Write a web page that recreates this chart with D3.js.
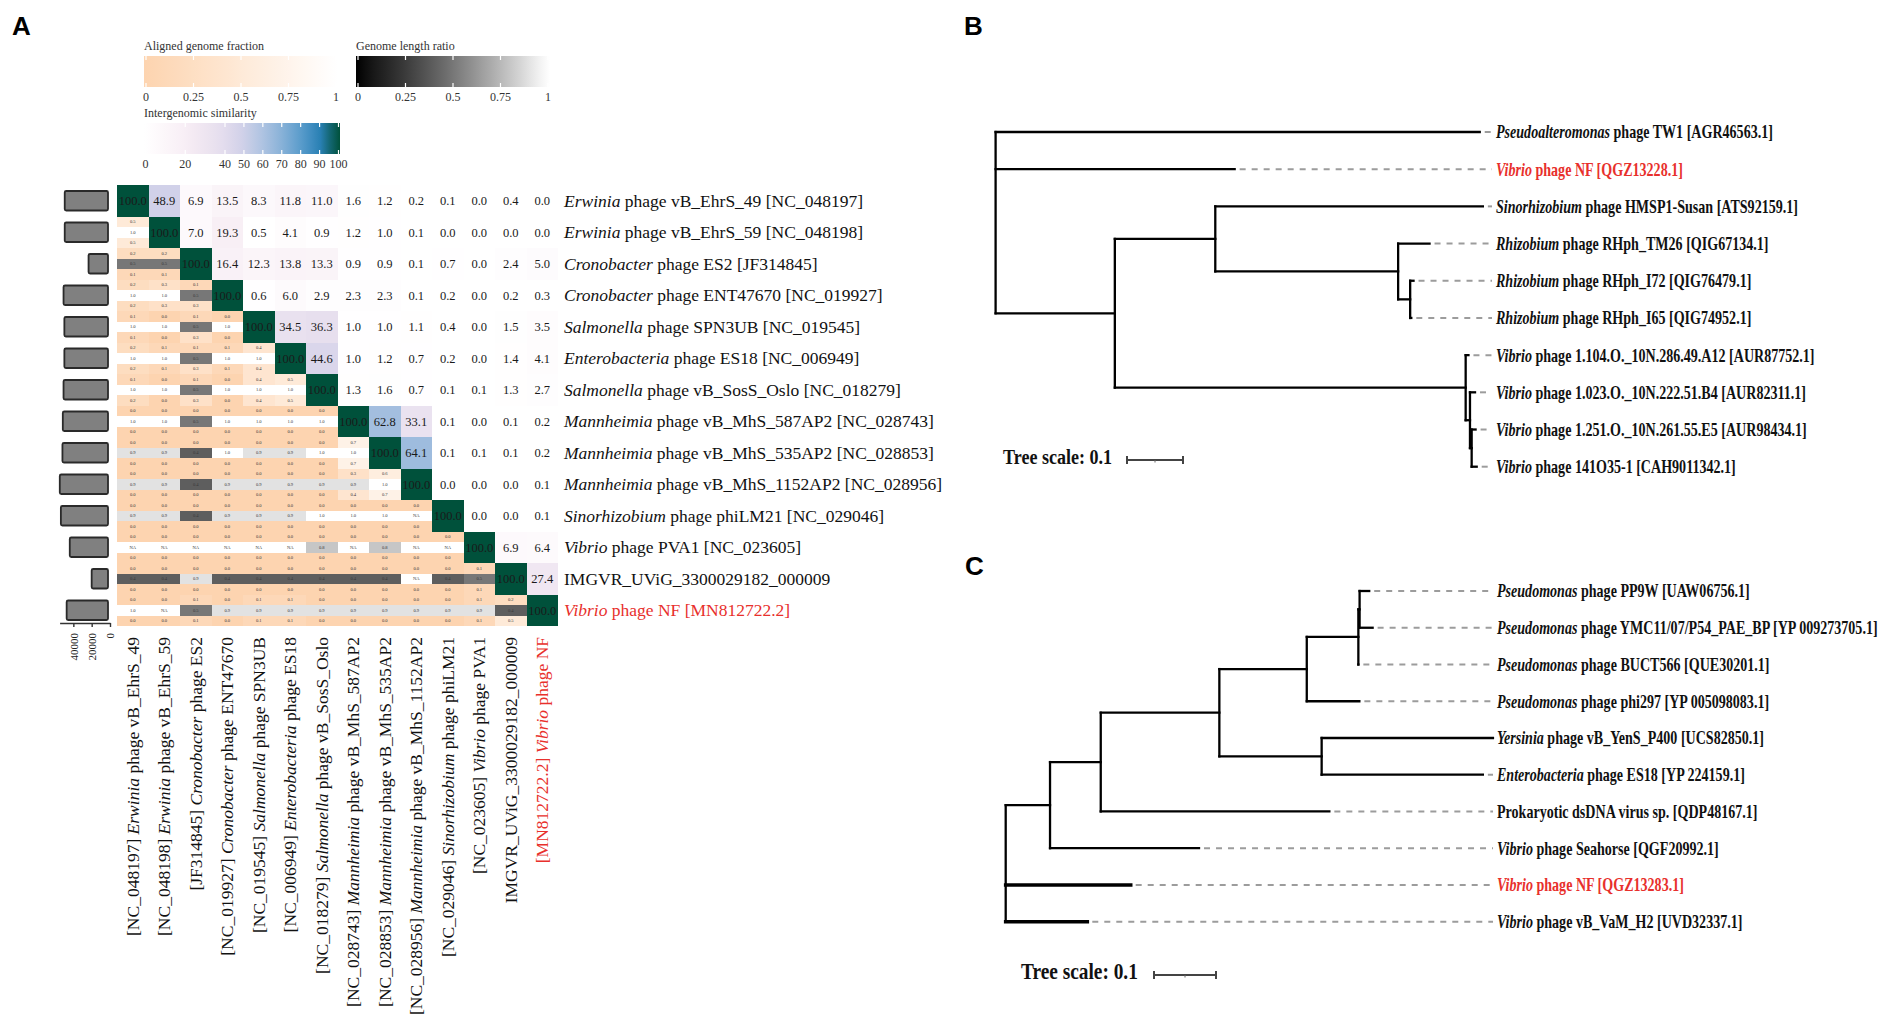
<!DOCTYPE html>
<html>
<head>
<meta charset="utf-8">
<script src="https://cdn.jsdelivr.net/npm/d3@7"></script>
<style>
  body { margin: 0; background: #fff; }
  text { font-family: "Liberation Serif", "Times New Roman", serif; }
  .letter { font-family: "Liberation Sans", Arial, sans-serif; font-weight: bold; font-size: 26px; }
</style>
</head>
<body>
<script>
// ---------------- panel A data ----------------
const genus = ["Erwinia", "Erwinia", "Cronobacter", "Cronobacter", "Salmonella", "Enterobacteria", "Salmonella",
  "Mannheimia", "Mannheimia", "Mannheimia", "Sinorhizobium", "Vibrio", "", "Vibrio"]
const phageName = ["vB_EhrS_49", "vB_EhrS_59", "ES2", "ENT47670", "SPN3UB", "ES18", "vB_SosS_Oslo",
  "vB_MhS_587AP2", "vB_MhS_535AP2", "vB_MhS_1152AP2", "phiLM21", "PVA1", "IMGVR_UViG_3300029182_000009", "NF"]
const accession = ["NC_048197", "NC_048198", "JF314845", "NC_019927", "NC_019545", "NC_006949", "NC_018279",
  "NC_028743", "NC_028853", "NC_028956", "NC_029046", "NC_023605", "", "MN812722.2"]
const genomeLength = [49400, 49400, 23400, 50700, 49800, 49800, 50700, 51500, 51900, 54800, 53600, 43900, 20000, 47300]
const highlightRow = 13

// intergenomic similarity, upper triangle (row i, columns i+1 .. n-1)
const similarity = [
  [48.9, 6.9, 13.5, 8.3, 11.8, 11.0, 1.6, 1.2, 0.2, 0.1, 0.0, 0.4, 0.0],
  [7.0, 19.3, 0.5, 4.1, 0.9, 1.2, 1.0, 0.1, 0.0, 0.0, 0.0, 0.0],
  [16.4, 12.3, 13.8, 13.3, 0.9, 0.9, 0.1, 0.7, 0.0, 2.4, 5.0],
  [0.6, 6.0, 2.9, 2.3, 2.3, 0.1, 0.2, 0.0, 0.2, 0.3],
  [34.5, 36.3, 1.0, 1.0, 1.1, 0.4, 0.0, 1.5, 3.5],
  [44.6, 1.0, 1.2, 0.7, 0.2, 0.0, 1.4, 4.1],
  [1.3, 1.6, 0.7, 0.1, 0.1, 1.3, 2.7],
  [62.8, 33.1, 0.1, 0.0, 0.1, 0.2],
  [64.1, 0.1, 0.1, 0.1, 0.2],
  [0.0, 0.0, 0.0, 0.1],
  [0.0, 0.0, 0.1],
  [6.9, 6.4],
  [27.4],
  []
]

// lower triangle (row i, columns 0 .. i-1): aligned fraction / length ratio / aligned fraction
const alignedTop = [
  [],
  [0.5],
  [0.2, 0.2],
  [0.2, 0.3, 0.1],
  [0.1, 0.0, 0.1, 0.0],
  [0.2, 0.1, 0.1, 0.1, 0.4],
  [0.1, 0.0, 0.1, 0.0, 0.4, 0.5],
  [0.0, 0.0, 0.0, 0.0, 0.0, 0.0, 0.0],
  [0.0, 0.0, 0.0, 0.0, 0.0, 0.0, 0.0, 0.7],
  [0.0, 0.0, 0.0, 0.0, 0.0, 0.0, 0.0, 0.3, 0.6],
  [0.0, 0.0, 0.0, 0.0, 0.0, 0.0, 0.0, 0.0, 0.0, 0.0],
  [0.0, 0.0, 0.0, 0.0, 0.0, 0.0, 0.0, 0.0, 0.0, 0.0, 0.0],
  [0.0, 0.0, 0.0, 0.0, 0.0, 0.0, 0.0, 0.0, 0.0, 0.0, 0.0, 0.1],
  [0.0, 0.0, 0.1, 0.0, 0.1, 0.1, 0.0, 0.0, 0.0, 0.0, 0.0, 0.1, 0.2]
]
const lengthRatio = [
  [],
  [1.0],
  [0.5, 0.5],
  [1.0, 1.0, 0.5],
  [1.0, 1.0, 0.5, 1.0],
  [1.0, 1.0, 0.5, 1.0, 1.0],
  [1.0, 1.0, 0.5, 1.0, 1.0, 1.0],
  [1.0, 1.0, 0.5, 1.0, 1.0, 1.0, 1.0],
  [0.9, 0.9, 0.4, 1.0, 0.9, 0.9, 1.0, 1.0],
  [0.9, 0.9, 0.4, 0.9, 0.9, 0.9, 0.9, 0.9, 1.0],
  [0.9, 0.9, 0.4, 0.9, 0.9, 0.9, 1.0, 1.0, 1.0, null],
  [null, null, null, null, null, null, 0.8, null, 0.8, null, null],
  [0.4, 0.4, 0.9, 0.4, 0.4, 0.4, 0.4, 0.4, 0.4, null, 0.4, 0.5],
  [1.0, null, 0.5, 0.9, 0.9, 0.9, 0.9, 0.9, 0.9, 0.9, 0.9, 0.9, 0.4]
]
const alignedBottom = [
  [],
  [0.5],
  [0.1, 0.1],
  [0.2, 0.3, 0.3],
  [0.1, 0.0, 0.3, 0.0],
  [0.2, 0.1, 0.3, 0.1, 0.4],
  [0.2, 0.0, 0.3, 0.0, 0.4, 0.5],
  [0.0, 0.0, 0.0, 0.0, 0.0, 0.0, 0.0],
  [0.0, 0.0, 0.0, 0.0, 0.0, 0.0, 0.0, 0.7],
  [0.0, 0.0, 0.0, 0.0, 0.0, 0.0, 0.0, 0.4, 0.7],
  [0.0, 0.0, 0.0, 0.0, 0.0, 0.0, 0.0, 0.0, 0.0, 0.0],
  [0.0, 0.0, 0.0, 0.0, 0.0, 0.0, 0.0, 0.0, 0.0, 0.0, 0.0],
  [0.0, 0.0, 0.0, 0.0, 0.0, 0.0, 0.0, 0.0, 0.0, 0.0, 0.0, 0.1],
  [0.0, 0.0, 0.1, 0.0, 0.1, 0.1, 0.0, 0.0, 0.0, 0.0, 0.0, 0.1, 0.5]
]

const fractionTicks = [0, 0.25, 0.5, 0.75, 1]
const ratioTicks = [0, 0.25, 0.5, 0.75, 1]
const similarityTicks = [0, 20, 40, 50, 60, 70, 80, 90, 100]
const lengthTicks = [0, 20000, 40000]

// ---------------- panel B / C data ----------------
const treeBGenus = ["Pseudoalteromonas", "Vibrio", "Sinorhizobium", "Rhizobium", "Rhizobium", "Rhizobium",
  "Vibrio", "Vibrio", "Vibrio", "Vibrio"]
const treeBRest = [" phage TW1 [AGR46563.1]", " phage NF [QGZ13228.1]", " phage HMSP1-Susan [ATS92159.1]",
  " phage RHph_TM26 [QIG67134.1]", " phage RHph_I72 [QIG76479.1]", " phage RHph_I65 [QIG74952.1]",
  " phage 1.104.O._10N.286.49.A12 [AUR87752.1]", " phage 1.023.O._10N.222.51.B4 [AUR82311.1]",
  " phage 1.251.O._10N.261.55.E5 [AUR98434.1]", " phage 141O35-1 [CAH9011342.1]"]
const treeBRed = [1]
// branch lengths (substitutions / site)
const treeB = { children: [
  { leaf: 0, len: 0.8645 },
  { leaf: 1, len: 0.4269 },
  { len: 0.2129, children: [
    { len: 0.1794, children: [
      { leaf: 2, len: 0.4778 },
      { len: 0.3265, children: [
        { leaf: 3, len: 0.0561 },
        { len: 0.0215, children: [{ leaf: 4, len: 0.006 }, { leaf: 5, len: 0.002 }] }
      ] }
    ] },
    { len: 0.6265, children: [
      { leaf: 6, len: 0.005 },
      { len: 0.0077, children: [
        { leaf: 7, len: 0.009 },
        { len: 0.003, children: [{ leaf: 8, len: 0.007 }, { leaf: 9, len: 0.009 }] }
      ] }
    ] }
  ] }
] }

const treeCGenus = ["Pseudomonas", "Pseudomonas", "Pseudomonas", "Pseudomonas", "Yersinia", "Enterobacteria",
  "", "Vibrio", "Vibrio", "Vibrio"]
const treeCRest = [" phage PP9W [UAW06756.1]", " phage YMC11/07/P54_PAE_BP [YP 009273705.1]",
  " phage BUCT566 [QUE30201.1]", " phage phi297 [YP 005098083.1]", " phage vB_YenS_P400 [UCS82850.1]",
  " phage ES18 [YP 224159.1]", "Prokaryotic dsDNA virus sp. [QDP48167.1]", " phage Seahorse [QGF20992.1]",
  " phage NF [QGZ13283.1]", " phage vB_VaM_H2 [UVD32337.1]"]
const treeCRed = [8]
const treeCThick = [8, 9]
const treeC = { children: [
  { len: 0.0715, children: [
    { len: 0.0818, children: [
      { len: 0.1913, children: [
        { len: 0.141, children: [
          { len: 0.0832, children: [
            { len: 0.002, children: [{ leaf: 0, len: 0.0155 }, { leaf: 1, len: 0.021 }] },
            { leaf: 2, len: 0.0 }
          ] },
          { leaf: 3, len: 0.0848 }
        ] },
        { len: 0.165, children: [{ leaf: 4, len: 0.2763 }, { leaf: 5, len: 0.26 }] }
      ] },
      { leaf: 6, len: 0.3687 }
    ] },
    { leaf: 7, len: 0.2403 }
  ] },
  { leaf: 8, len: 0.2016 },
  { leaf: 9, len: 0.1316 }
] }

const RED = "#e8302c"
const simColors = ["#ffffff", "#f8eef5", "#e3dced", "#cfd0e8", "#aec3e2", "#88b2d8", "#5a9ccb", "#2b82b8", "#00513b"]

const svg = d3.select("body").append("svg")
  .attr("width", 1901)
  .attr("height", 1034)
svg.append("rect").attr("width", 1901).attr("height", 1034).attr("fill", "#fff")
const defs = svg.append("defs")

// panel letters
svg.append("text").attr("class", "letter").attr("x", 12).attr("y", 35).text("A")
svg.append("text").attr("class", "letter").attr("x", 964).attr("y", 35).text("B")
svg.append("text").attr("class", "letter").attr("x", 965).attr("y", 575).text("C")

// ---------------- colour scales ----------------
const simColor = d3.scaleLinear().domain(similarityTicks).range(simColors)
const fracColor = d3.scaleLinear().domain([0, 1]).range(["#fdd4b0", "#ffffff"])
const ratioColor = d3.scaleLinear().domain([0, 1]).range(["#000000", "#ffffff"]).interpolate(d3.interpolateLab)

// ---------------- legends ----------------
function colorbar(id, title, x0, x1, y0, pos, ticks, color, fmt) {
  const g = svg.append("g")
  const grad = defs.append("linearGradient").attr("id", id)
  d3.range(0, 1.0001, 0.05).forEach(t => {
    const v = pos.invert(x0 + t * (x1 - x0))
    grad.append("stop").attr("offset", t).attr("stop-color", color(Math.max(0, Math.min(ticks[ticks.length - 1], v))))
  })
  g.append("text").attr("x", x0).attr("y", y0 - 6).attr("font-size", 12).attr("fill", "#333").text(title)
  g.append("rect").attr("x", x0).attr("y", y0).attr("width", x1 - x0).attr("height", 31)
    .attr("fill", `url(#${id})`)
  ticks.forEach(t => {
    g.append("line").attr("x1", pos(t)).attr("x2", pos(t)).attr("y1", y0).attr("y2", y0 + 4)
      .attr("stroke", "#fff").attr("stroke-width", 1.2)
    g.append("line").attr("x1", pos(t)).attr("x2", pos(t)).attr("y1", y0 + 27).attr("y2", y0 + 31)
      .attr("stroke", "#fff").attr("stroke-width", 1.2)
  })
  g.selectAll(".tl").data(ticks).enter().append("text")
    .attr("x", d => pos(d)).attr("y", y0 + 45)
    .attr("text-anchor", "middle").attr("font-size", 12).attr("fill", "#333")
    .text(fmt)
}

colorbar("gFrac", "Aligned genome fraction", 144, 338, 56,
  d3.scaleLinear().domain([0, 1]).range([146, 336]), fractionTicks, fracColor, d => String(d))
colorbar("gRatio", "Genome length ratio", 356, 550, 56,
  d3.scaleLinear().domain([0, 1]).range([358, 548]), ratioTicks, ratioColor, d => String(d))
colorbar("gSim", "Intergenomic similarity", 144, 340, 123,
  d3.scaleLinear().domain([0, 40, 100]).range([145.5, 225, 338.5]), similarityTicks, simColor, d => String(d))

// ---------------- heatmap ----------------
const N = genus.length
const cx = d3.scaleBand().domain(d3.range(N)).range([117, 558])
const cy = d3.scaleBand().domain(d3.range(N)).range([185, 626])
const bw = cx.bandwidth()
const bh = cy.bandwidth()

const upper = []
const lower = []
for (let i = 0; i < N; i++) {
  for (let j = 0; j < N; j++) {
    if (j >= i) {
      upper.push({ i, j, v: j === i ? 100 : similarity[i][j - i - 1] })
    } else {
      lower.push({ i, j, k: 0, v: alignedTop[i][j], color: fracColor })
      lower.push({ i, j, k: 1, v: lengthRatio[i][j], color: ratioColor })
      lower.push({ i, j, k: 2, v: alignedBottom[i][j], color: fracColor })
    }
  }
}

const hm = svg.append("g")

hm.selectAll(".up").data(upper).enter().append("rect")
  .attr("x", d => cx(d.j)).attr("y", d => cy(d.i))
  .attr("width", bw).attr("height", bh)
  .attr("shape-rendering", "crispEdges")
  .attr("fill", d => simColor(d.v))

hm.selectAll(".upt").data(upper).enter().append("text")
  .attr("x", d => cx(d.j) + bw / 2).attr("y", d => cy(d.i) + bh / 2)
  .attr("dy", "0.35em").attr("text-anchor", "middle")
  .attr("font-size", 12.5).attr("fill", "#1a1a1a")
  .text(d => d.v.toFixed(1))

hm.selectAll(".lo").data(lower).enter().append("rect")
  .attr("x", d => cx(d.j)).attr("y", d => cy(d.i) + d.k * bh / 3)
  .attr("width", bw).attr("height", bh / 3 + 0.3)
  .attr("shape-rendering", "crispEdges")
  .attr("fill", d => d.v === null ? "#ffffff" : d.color(d.v))

hm.selectAll(".lot").data(lower).enter().append("text")
  .attr("x", d => cx(d.j) + bw / 2).attr("y", d => cy(d.i) + (d.k + 0.5) * bh / 3)
  .attr("dy", "0.35em").attr("text-anchor", "middle")
  .attr("font-size", 4.6).attr("fill", "#3a3a3a")
  .text(d => d.v === null ? "NA" : d.v.toFixed(1))

// row labels
const rowLab = hm.selectAll(".rl").data(d3.range(N)).enter().append("text")
  .attr("x", 564).attr("y", i => cy(i) + bh / 2).attr("dy", "0.35em")
  .attr("font-size", 17.5)
  .attr("fill", i => i === highlightRow ? RED : "#111")
rowLab.append("tspan").attr("font-style", "italic").text(i => genus[i])
rowLab.append("tspan").text(i => genus[i] ? ` phage ${phageName[i]} [${accession[i]}]` : phageName[i])

// column labels
const colLab = hm.selectAll(".cl").data(d3.range(N)).enter().append("text")
  .attr("transform", i => `translate(${cx(i) + bw / 2},637) rotate(-90)`)
  .attr("dy", "0.35em").attr("text-anchor", "end")
  .attr("font-size", 17.5)
  .attr("fill", i => i === highlightRow ? RED : "#111")
colLab.append("tspan").text(i => accession[i] ? `[${accession[i]}] ` : "")
colLab.append("tspan").attr("font-style", "italic").text(i => genus[i])
colLab.append("tspan").text(i => genus[i] ? ` phage ${phageName[i]}` : phageName[i])

// genome length bars
const lenX = d3.scaleLinear().domain([0, 55000]).range([110, 59.6])
hm.selectAll(".bar").data(genomeLength).enter().append("rect")
  .attr("x", d => lenX(d)).attr("y", (d, i) => cy(i) + 6)
  .attr("width", d => lenX(0) - lenX(d) - 2).attr("height", 19.5)
  .attr("rx", 1.5)
  .attr("fill", "#808080").attr("stroke", "#2a2a2a").attr("stroke-width", 1.8)

const lenAxis = hm.append("g")
  .attr("transform", "translate(0,623)")
  .call(d3.axisBottom(lenX).tickValues(lengthTicks).tickFormat(d3.format("d")).tickSize(4).tickSizeOuter(0))
lenAxis.select(".domain").attr("stroke", "#333").attr("stroke-width", 1.4)
lenAxis.selectAll(".tick line").attr("stroke", "#333").attr("stroke-width", 1.4)
lenAxis.selectAll(".tick text")
  .attr("transform", "rotate(-90)")
  .attr("x", -10).attr("y", 0).attr("dy", "0.35em")
  .attr("text-anchor", "end")
  .attr("font-family", "Liberation Serif").attr("font-size", 11).attr("fill", "#222")

// ---------------- trees ----------------
function drawTree(tree, genusArr, restArr, redArr, opts) {
  const g = svg.append("g")
  const root = d3.hierarchy(tree)
  const leaves = root.leaves()
  const yPos = d3.scalePoint().domain(leaves.map(d => d.data.leaf)).range([opts.top, opts.bottom])
  const xPos = d3.scaleLinear().domain([0, 1]).range([opts.rootX, opts.rootX + opts.unit])

  root.eachBefore(d => { d.dist = (d.parent ? d.parent.dist : 0) + (d.data.len || 0) })
  root.eachAfter(d => { d.py = d.children ? d3.mean(d.children, c => c.py) : yPos(d.data.leaf) })

  const thick = d => d.data.leaf !== undefined && (opts.thick || []).includes(d.data.leaf)

  // vertical connectors
  g.selectAll(".v").data(root.descendants().filter(d => d.children)).enter().append("line")
    .attr("x1", d => xPos(d.dist)).attr("x2", d => xPos(d.dist))
    .attr("y1", d => d3.min(d.children, c => c.py)).attr("y2", d => d3.max(d.children, c => c.py))
    .attr("stroke", "#000").attr("stroke-width", 2.3).attr("stroke-linecap", "square")

  // horizontal branches
  g.selectAll(".h").data(root.descendants().filter(d => d.parent)).enter().append("line")
    .attr("x1", d => xPos(d.parent.dist)).attr("x2", d => xPos(d.dist))
    .attr("y1", d => d.py).attr("y2", d => d.py)
    .attr("stroke", "#000").attr("stroke-width", d => thick(d) ? 3.6 : 2.3).attr("stroke-linecap", "square")

  // dashed leaders
  g.selectAll(".lead").data(leaves.filter(d => opts.labelX - 4 - (xPos(d.dist) + 5) > 3)).enter().append("line")
    .attr("x1", d => xPos(d.dist) + 5).attr("x2", opts.labelX - 4)
    .attr("y1", d => d.py).attr("y2", d => d.py)
    .attr("stroke", "#9c9c9c").attr("stroke-width", 2).attr("stroke-dasharray", "6,6")

  // leaf labels
  const lab = g.selectAll(".lab").data(leaves).enter().append("text")
    .attr("transform", d => `translate(${opts.labelX},${d.py}) scale(0.76,1)`)
    .attr("dy", "0.35em").attr("font-size", 18.5).attr("font-weight", "bold")
    .attr("fill", d => redArr.includes(d.data.leaf) ? RED : "#111")
  lab.append("tspan").attr("font-style", "italic").text(d => genusArr[d.data.leaf])
  lab.append("tspan").text(d => restArr[d.data.leaf])

  // tree scale
  const x0 = opts.barX
  const x1 = x0 + xPos(0.1) - xPos(0)
  g.append("text")
    .attr("transform", `translate(${opts.textX},${opts.barY + 4}) scale(0.86,1)`)
    .attr("font-size", opts.scaleFont).attr("font-weight", "bold").attr("fill", "#111")
    .text("Tree scale: 0.1")
  g.append("line").attr("x1", x0).attr("x2", x1).attr("y1", opts.barY).attr("y2", opts.barY)
    .attr("stroke", "#444").attr("stroke-width", 2)
  ;[x0, x1].forEach(xx => g.append("line").attr("x1", xx).attr("x2", xx)
    .attr("y1", opts.barY - 4).attr("y2", opts.barY + 4).attr("stroke", "#444").attr("stroke-width", 2))
  g.append("line").attr("x1", (x0 + x1) / 2).attr("x2", (x0 + x1) / 2)
    .attr("y1", opts.barY).attr("y2", opts.barY + 2.5).attr("stroke", "#666").attr("stroke-width", 1)
}

drawTree(treeB, treeBGenus, treeBRest, treeBRed, {
  top: 132, bottom: 466.7, rootX: 995.6, unit: 560, labelX: 1496,
  barX: 1127, barY: 460, textX: 1003, scaleFont: 21
})
drawTree(treeC, treeCGenus, treeCRest, treeCRed, {
  top: 591, bottom: 921.7, rootX: 1005.7, unit: 620, labelX: 1497, thick: treeCThick,
  barX: 1154, barY: 975, textX: 1021, scaleFont: 22.5
})
</script>
</body>
</html>
